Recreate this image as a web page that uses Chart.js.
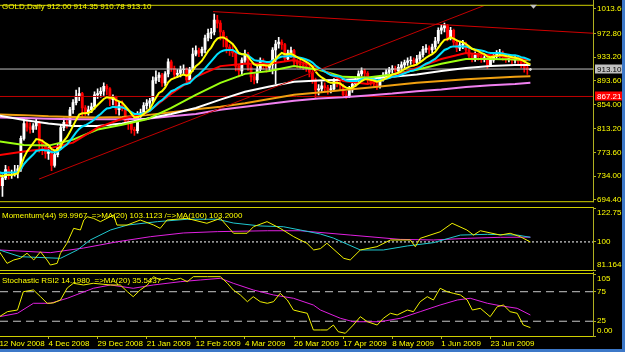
<!DOCTYPE html>
<html><head><meta charset="utf-8">
<script src="https://cdn.jsdelivr.net/npm/chart.js@4.4.1/dist/chart.umd.min.js"></script>
<style>
html,body{margin:0;padding:0;background:#000;}
#wrap{position:relative;width:625px;height:352px;background:#000;overflow:hidden}
canvas{position:absolute;left:0}
#edgeR{position:absolute;left:622px;top:0;width:3px;height:352px;background:#3c78c8}
#edgeB{position:absolute;left:0;top:349px;width:625px;height:3px;background:#3c78c8}
</style></head><body>
<div id="wrap">
<canvas id="cMain" width="625" height="207" style="top:0px"></canvas>
<canvas id="cMom" width="625" height="65" style="top:207px"></canvas>
<canvas id="cSto" width="625" height="80" style="top:272px"></canvas>
<div id="edgeR"></div><div id="edgeB"></div>
</div>
<script>
// ---------------- DATA ----------------
const symbolName = 'GOLD';
const timeframe = 'Daily';
const barOpen = [736,718,731,745,736,737,740,746,797,822,
816,812,818,824,790,784,772,775,752,770,
782,815,824,822,845,857,868,872,848,840,
845,850,870,872,876,884,880,862,866,845,
852,848,826,822,812,810,836,840,852,856,
860,894,899,903,890,905,925,914,904,906,
912,913,895,912,938,944,940,946,965,973,
975,995,990,975,965,950,945,940,918,910,
928,938,916,900,895,913,926,918,916,920,
945,955,958,954,930,940,944,925,922,920,
918,915,908,895,878,880,885,882,878,880,
892,890,886,870,868,878,888,895,905,910,
906,895,892,888,884,898,902,908,912,914,
910,916,920,924,927,928,924,930,937,946,
948,945,950,960,978,982,986,965,978,958,
948,953,955,945,935,930,936,934,930,932,
920,928,936,938,940,934,930,932,928,930,
926,922,915,912];
const barHigh = [742,736,752,750,744,752,752,801,830,828,
823,822,830,826,795,788,782,778,776,787,
819,831,830,849,862,878,882,874,852,851,
856,875,880,882,890,887,882,870,868,858,
860,852,831,825,816,842,846,857,862,864,
900,910,907,906,909,930,928,918,912,918,
920,915,916,948,952,948,950,970,980,981,
1005,1003,994,978,968,954,955,943,921,932,
945,941,920,905,918,932,930,922,926,949,
961,966,962,956,945,950,946,929,928,925,
924,918,911,898,887,892,890,886,886,897,
896,894,888,876,884,893,900,910,915,913,
909,899,896,893,902,907,912,916,919,918,
921,925,928,932,934,932,936,942,951,954,
952,955,966,982,988,990,988,983,980,962,
958,961,958,948,939,942,940,937,937,934,
933,940,944,946,943,938,937,935,935,933,
929,925,918,914.35];
const barLow = [712,700,728,729,730,734,731,742,794,809,
806,807,812,774,770,764,762,743,749,766,
779,810,814,819,839,853,860,834,835,836,
840,846,864,866,869,870,852,853,838,836,
843,820,812,806,802,806,832,835,846,848,
856,889,892,884,885,900,909,898,899,900,
905,888,890,909,935,934,935,940,960,964,
970,982,962,950,940,936,934,910,900,902,
924,911,892,888,890,909,913,908,910,905,
888,948,946,926,927,933,920,915,914,912,
909,900,889,865,870,874,876,871,873,877,
883,878,866,864,865,874,884,891,901,899,
889,886,882,879,881,893,898,903,906,904,
906,912,915,919,921,918,920,926,933,941,
938,940,946,956,972,975,960,962,952,942,
944,947,939,930,925,926,928,924,925,914,
917,924,931,933,928,924,925,922,923,919,
915,908,904,910.78];
const barClose = [718,731,745,736,737,740,746,797,822,816,
812,818,824,790,784,772,775,752,770,782,
815,824,822,845,857,868,872,848,840,845,
850,870,872,876,884,880,862,866,845,852,
848,826,822,812,810,836,840,852,856,860,
894,899,903,890,905,925,914,904,906,912,
913,895,912,938,944,940,946,965,973,975,
995,990,975,965,950,945,940,918,910,928,
938,916,900,895,913,926,918,916,920,945,
955,958,954,930,940,944,925,922,920,918,
915,908,895,878,880,885,882,878,880,892,
890,886,870,868,878,888,895,905,910,906,
895,892,888,884,898,902,908,912,914,910,
916,920,924,927,928,924,930,937,946,948,
945,950,960,978,982,986,965,978,958,948,
953,955,945,935,930,936,934,930,932,920,
928,936,938,940,934,930,932,928,930,926,
922,915,912,913.10];

// fast moving averages read per bar
const maYellow = [735,734,736,736,736,737,739,751,765,775,
782,789,796,795,793,789,786,779,777,778,
785,793,799,808,818,828,837,839,839,840,
842,848,853,858,863,866,865,865,861,859,
857,851,845,838,832,833,834,838,842,846,
856,865,873,876,882,891,896,898,900,902,
904,902,904,911,918,922,927,935,943,949,
958,964,966,966,963,959,955,948,940,938,
938,934,927,921,919,920,920,919,919,924,
930,936,940,938,938,939,936,933,930,928,
925,922,917,909,903,899,896,892,890,890,
890,889,885,882,881,882,885,889,893,896,
896,895,894,892,893,895,898,901,904,905,
907,910,913,916,918,919,921,924,928,932,
935,938,942,949,956,962,963,966,964,961,
959,958,955,951,947,945,943,940,938,934,
933,934,935,936,936,935,934,933,932,931,
929,926,923,921];
const maCyan = [740,739,740,740,740,740,741,746,754,760,
765,770,776,777,778,777,777,774,774,775,
779,783,787,793,800,807,813,817,819,822,
825,829,834,838,843,847,848,850,849,849,
849,847,844,841,838,838,838,839,841,843,
848,853,858,861,866,871,876,878,881,884,
887,888,890,895,900,904,909,914,920,926,
932,938,942,944,945,945,945,942,939,938,
938,936,932,928,927,927,926,925,925,927,
929,932,934,934,935,935,934,933,932,931,
929,927,924,919,915,912,909,906,903,902,
901,900,897,894,893,893,893,894,896,897,
897,896,896,894,895,895,897,898,900,901,
902,904,906,908,910,911,913,915,919,922,
924,927,930,935,940,945,947,950,951,951,
951,951,951,949,947,946,945,944,943,941,
940,940,940,940,939,938,937,936,936,935,
933,932,930,928];
// slow moving averages read every 8 bars
const maSlowBars = [0,8,16,24,32,40,48,56,64,72,80,88,96,104,112,120,128,136,144,152,160,168,173];
const maRed    = [769,775,780,790,815,830,840,872,900,918,922,922,928,915,893,888,900,915,930,940,936,932,928];
const maGreen  = [792,786,785,795,812,820,829,848,870,890,905,910,918,912,900,899,904,912,922,930,930,929,928];
const maWhite  = [835,828,822,818,818,822,830,838,848,862,875,884,892,894,895,897,900,904,910,915,918,920,920];
const maOrange = [837,836,834,833,832,833,836,841,846,850,856,863,870,874,878,882,886,890,893,896,898,900,901];
const maViolet = [832,831,830,829,829,829,830,834,838,845,850,855,860,864,866,869,872,876,879,883,886,888,890];

// drawn objects
const alertLevel = 867.21;
const trendDownBars = [69.6, 193.4];
const trendDownVals = [1009.2, 973.0];
const trendUpBars = [12.9, 165];
const trendUpVals = [729.0, 1033.5];

// axis ticks
const priceTicks = [1013.60, 972.80, 933.20, 893.60, 854.00, 813.20, 773.60, 734.00, 694.40];
const dateTickBars = [0,16,32,48,64,80,96,112,128,144,160];
const dateTickLabels = ['12 Nov 2008','4 Dec 2008','29 Dec 2008','21 Jan 2009','12 Feb 2009','4 Mar 2009','26 Mar 2009','17 Apr 2009','8 May 2009','1 Jun 2009','23 Jun 2009'];

// Momentum(44) with MA(20) and MA(100)
const momBars = [0,2.5,4.7,6.8,9,11.2,13.4,15.5,16.6,18.8,19.9,22,24.2,26.4,27.5,28.6,30.7,32.9,37.2,38.3,41.6,45.9,50.3,52.4,54.6,61.1,67.6,72,76.3,80.7,82.8,87.2,91.5,95.9,98,100.2,102.4,104.6,106.7,112.2,114.3,117.6,123,127.4,133.9,135.5,137.1,143.6,147.5,152.3,154.5,156.7,163.2,166.4,169.7,173];
const momVals = [93.4,85.6,87.9,89.0,92.4,87.9,93.4,87.9,84.5,85.6,92.4,99.1,109.1,108,114.7,116.9,115.8,113.6,118.1,111.3,111.3,114.7,111.3,109.1,114.7,115.8,112.5,115.8,105.8,105.8,110.2,113.6,109.1,103.5,101.3,99.1,94.6,95.5,99.1,89.0,87.9,94.6,96.8,101.3,101.3,96.8,102.4,106.8,112.5,108,104.6,107.5,104.6,105.8,103.5,99.9967];
const momMa20Bars = [0,6.8,19.9,25.4,29.6,36.2,41.7,51.5,61.2,71,76.2,85,92.5,98,104.6,108.8,117.6,125.1,132.9,141.4,150.2,159,168.7,173];
const momMa20Vals = [94.6,90.1,89.0,94.6,101.3,108,111.3,113.6,115.2,115.2,112.7,110.7,110.2,108,105.3,102.6,94.6,94.6,97.3,99.5,104.6,105.1,104.6,103.1123];
const momMa100Bars = [0,16.6,27.4,38.4,49.2,59.9,71,87.3,98,114.3,130.6,141.4,152.4,163.2,173];
const momMa100Vals = [94.6,92.8,95.9,100.1,103.5,106,106.9,107.5,107.5,104.6,101.7,101.3,102.4,103.1,103.2];
const momLevels = [100];
const momAxisValues = [122.7519, 100, 81.1641];
const momAxisLabels = ['122.7519','100','81.1641'];

// Stochastic RSI with MA(20)
const stBars = [0,2.6,5.9,7.8,11.1,13.4,15.6,17.6,19.9,22.1,24.1,27.4,30.6,36.2,39.4,41.7,43.6,45.9,48.2,50.2,52.4,54.7,56.7,59,61.2,63.2,67.8,72,74.3,76.2,78.5,80.8,82.7,85,87.3,89.3,91.5,93.8,95.8,98,100.3,102.3,104.6,106.8,108.8,110.4,112.7,115.3,117.6,119.9,123.1,125.1,127.4,129.6,132.9,134.9,137.1,139.4,141.4,143.6,145.9,147.9,150.2,152.4,154.1,156.7,159.9,162.2,164.2,166.4,168.7,170.7,173];
const stVals = [32.7,41.2,44,75,78,66.6,55.4,56,61,81.3,89.3,86.4,89.3,86.4,86.4,75,66.6,78,86.4,100.5,94.9,97.7,94.9,97.7,92,100.5,100.5,100.5,89.3,78,69.5,58.1,66.6,58.1,55.4,58.1,72.3,61,44,41.2,38.5,10.2,10.2,10.2,18.6,7.3,4.6,18.6,32.7,24.2,18.6,30,38.5,35.6,44,41.2,58.1,66.6,61,80.8,75,72.3,69.5,61,44,46.9,32.7,49.6,52.5,41.2,38.5,18.6,14.198];
const stMaBars = [0,5.9,11.1,16.6,22.1,30.6,36.2,43.6,50.2,59,65.5,72,76.2,82.7,89.3,95.8,102.3,104.6,111.1,115.3,124.1,130.6,137.1,143.6,149.2,153.4,159,163.2,168.7,173];
const stMaVals = [32.7,38.5,55.4,55.4,63.9,80.8,86.4,80.8,86.4,92,94.9,97.7,89.3,78,69.5,63.9,52.5,44,30,24.2,24.2,30,41.2,52.5,61,63.9,55.4,51.3,46.9,35.5437];
const stLevels = [75, 25];
const stAxisValues = [105, 75, 25, 0];
const stAxisLabels = ['105','75','25','0.00'];

// ---------------- STYLE ----------------
const FONT_FAMILY = "'Liberation Sans Narrow','Liberation Sans',Arial,sans-serif";
const FONT = "8px " + FONT_FAMILY;
const TXT = '#ffff00';
const FRAME = '#d0d000';
const AXIS = '#b0b020';
const X_MIN = 0.2, X_MAX = 193.4;
Chart.defaults.font.family = FONT_FAMILY;
Chart.defaults.font.size = 8;

const pts = (xs, ys) => xs.map((x, i) => ({x: x, y: ys[i]}));
const lineDs = (data, color, width, extra) => Object.assign({type: 'line', data: data, borderColor: color, borderWidth: width, pointRadius: 0, tension: 0, fill: false, order: 0}, extra || {});
const hLine = (v) => [{x: X_MIN, y: v}, {x: X_MAX, y: v}];

function text(ctx, s, x, y, color, align, base) {
  ctx.save(); ctx.font = FONT; ctx.fillStyle = color; ctx.textAlign = align || 'left'; ctx.textBaseline = base || 'middle';
  ctx.fillText(s, x, y); ctx.restore();
}
function frame(chart) {
  const {ctx, chartArea: a} = chart; const H = chart.height;
  ctx.save(); ctx.strokeStyle = FRAME; ctx.lineWidth = 1;
  ctx.beginPath();
  ctx.moveTo(0, a.top - 0.5); ctx.lineTo(a.right + 1, a.top - 0.5);
  ctx.moveTo(0, a.bottom + 0.5); ctx.lineTo(a.right + 1, a.bottom + 0.5);
  ctx.stroke();
  ctx.strokeStyle = AXIS; ctx.beginPath();
  ctx.moveTo(a.right + 0.5, 0); ctx.lineTo(a.right + 0.5, Math.min(H, a.bottom + 1));
  ctx.stroke(); ctx.restore();
}
function axisLabels(chart, values, labels) {
  const y = chart.scales.y, a = chart.chartArea;
  values.forEach((v, i) => {
    let py = y.getPixelForValue(v), base = 'middle';
    if (i === 0) { py = a.top + 1; base = 'top'; }
    if (i === values.length - 1) { py = a.bottom - 1; base = 'bottom'; }
    text(chart.ctx, labels[i], a.right + 4, py, TXT, 'left', base);
  });
}
function yAxis(min, max, tickVals, showLabels) {
  return {type: 'linear', position: 'right', min: min, max: max,
    afterFit(s) { s.width = 32; },
    afterBuildTicks(s) { s.ticks = tickVals.map(v => ({value: v})); },
    grid: {drawOnChartArea: false, drawTicks: true, tickLength: 3, color: AXIS},
    border: {display: false},
    ticks: {display: showLabels, color: TXT, padding: 1, font: {size: 8}, callback: v => Number(v).toFixed(2)}};
}
const baseOpts = (pad) => ({responsive: false, animation: false, events: [],
  layout: {padding: pad}, plugins: {legend: {display: false}, tooltip: {enabled: false}}});

// ---------------- MAIN CHART ----------------
const wickUp = [], wickDn = [], bodyUp = [], bodyDn = [];
barClose.forEach((c, i) => {
  const o = barOpen[i], up = c >= o;
  (up ? wickUp : wickDn).push({x: i, y: [barLow[i], barHigh[i]]});
  (up ? bodyUp : bodyDn).push({x: i, y: [Math.min(o, c), Math.max(o, c) + (o === c ? 0.4 : 0)]});
});
const idx = barClose.map((_, i) => i);
const barDs = (data, color, thick) => ({type: 'bar', data: data, backgroundColor: color, borderWidth: 0, barThickness: thick, grouped: false, order: 5});
const lastBar = barClose.length - 1;
const bid = barClose[lastBar];

new Chart(document.getElementById('cMain'), {
  type: 'line',
  data: {datasets: [
    lineDs(pts(trendDownBars, trendDownVals), '#d00000', 1),
    lineDs(pts(trendUpBars, trendUpVals), '#c00000', 1),
    lineDs(pts(idx, maYellow), '#ffff00', 2),
    lineDs(pts(idx, maCyan), '#00e0ff', 2, {order: 1}),
    lineDs(pts(maSlowBars, maRed), '#ff0000', 2, {order: 1}),
    lineDs(pts(maSlowBars, maGreen), '#9cff10', 2, {order: 1}),
    lineDs(pts(maSlowBars, maWhite), '#ffffff', 2, {order: 1}),
    lineDs(pts(maSlowBars, maOrange), '#f0a010', 2, {order: 1}),
    lineDs(pts(maSlowBars, maViolet), '#f080f0', 2, {order: 1}),
    lineDs(hLine(bid), '#c0c0c0', 1, {order: 2}),
    lineDs(hLine(alertLevel), '#c00000', 1, {order: 2}),
    barDs(bodyUp, '#ffffff', 2.2), barDs(bodyDn, '#ff0000', 2.2),
    barDs(wickUp, '#ffffff', 1), barDs(wickDn, '#ff0000', 1)
  ]},
  options: Object.assign(baseOpts({top: 2, bottom: 2, left: 0, right: 0}), {
    scales: {
      x: {type: 'linear', min: X_MIN, max: X_MAX, display: false, offset: false},
      y: yAxis(692.0, 1018.9, priceTicks, true)
    }
  }),
  plugins: [{id: 'mainDeco', afterDraw(chart) {
    const ctx = chart.ctx, a = chart.chartArea, y = chart.scales.y, x = chart.scales.x;
    frame(chart);
    const f = v => v.toFixed(2);
    text(ctx, symbolName + ',' + timeframe + ' ' + f(barOpen[lastBar]) + ' ' + f(barHigh[lastBar]) + ' ' + f(barLow[lastBar]) + ' ' + f(barClose[lastBar]), 2, 6.5, TXT);
    // price tags
    const tag = (v, bg, fg) => { const py = Math.round(y.getPixelForValue(v));
      ctx.save(); ctx.fillStyle = bg; ctx.fillRect(a.right + 2, py - 4.5, 30, 9); ctx.restore();
      text(ctx, f(v), a.right + 4, py + 0.5, fg); };
    tag(alertLevel, '#ff0000', '#ffffff');
    tag(bid, '#c0c0c0', '#000000');
    // chart shift marker
    const sx = x.getPixelForValue(barClose.length);
    ctx.save(); ctx.fillStyle = '#c0c0c0'; ctx.beginPath();
    ctx.moveTo(sx - 3.5, a.top - 1); ctx.lineTo(sx + 3.5, a.top - 1); ctx.lineTo(sx, a.top + 3); ctx.closePath(); ctx.fill(); ctx.restore();
  }}]
});

// ---------------- MOMENTUM ----------------
new Chart(document.getElementById('cMom'), {
  type: 'line',
  data: {datasets: [
    lineDs(pts(momBars, momVals), '#f0f000', 1),
    lineDs(pts(momMa20Bars, momMa20Vals), '#20c8d0', 1, {order: 1}),
    lineDs(pts(momMa100Bars, momMa100Vals), '#e020e0', 1, {order: 2}),
    lineDs(hLine(momLevels[0]), '#ffffff', 1, {order: 3, borderDash: [2, 2]})
  ]},
  options: Object.assign(baseOpts({top: 1, bottom: 2, left: 0, right: 0}), {
    scales: {
      x: {type: 'linear', min: X_MIN, max: X_MAX, display: false, offset: false},
      y: yAxis(momAxisValues[2], momAxisValues[0], momAxisValues, false)
    }
  }),
  plugins: [{id: 'momDeco', afterDraw(chart) {
    frame(chart);
    axisLabels(chart, momAxisValues, momAxisLabels);
    text(chart.ctx, 'Momentum(44) ' + momVals[momVals.length - 1].toFixed(4) + '  =>MA(20) ' + momMa20Vals[momMa20Vals.length - 1].toFixed(4) + ' /=>MA(100) ' + momMa100Vals[momMa100Vals.length - 1].toFixed(4), 2, 8.5, TXT);
  }}]
});

// ---------------- STOCHASTIC RSI ----------------
new Chart(document.getElementById('cSto'), {
  type: 'line',
  data: {datasets: [
    lineDs(pts(stBars, stVals), '#f0f000', 1),
    lineDs(pts(stMaBars, stMaVals), '#e020e0', 1, {order: 1}),
    lineDs(hLine(stLevels[0]), '#c8c8c8', 1, {order: 3, borderDash: [8, 5]}),
    lineDs(hLine(stLevels[1]), '#c8c8c8', 1, {order: 3, borderDash: [8, 5]})
  ]},
  options: Object.assign(baseOpts({top: 2, bottom: 2, left: 0, right: 0}), {
    scales: {
      x: {type: 'linear', min: X_MIN, max: X_MAX, position: 'bottom', offset: false,
        afterFit(s) { s.height = 14; s.paddingLeft = 0; s.paddingRight = 0; },
        afterBuildTicks(s) { s.ticks = dateTickBars.map(v => ({value: v})); },
        grid: {drawOnChartArea: false, drawTicks: true, tickLength: 3, color: AXIS},
        border: {display: false},
        ticks: {color: TXT, align: 'start', padding: 0, autoSkip: false, maxRotation: 0, minRotation: 0,
          font: {size: 8}, callback: (v, i) => dateTickLabels[i]}},
      y: yAxis(stAxisValues[3], stAxisValues[0], stAxisValues, false)
    }
  }),
  plugins: [{id: 'stDeco', afterDraw(chart) {
    frame(chart);
    axisLabels(chart, stAxisValues, stAxisLabels);
    text(chart.ctx, 'Stochastic RSI2 ' + stVals[stVals.length - 1].toFixed(4) + '  =>MA(20) ' + stMaVals[stMaVals.length - 1].toFixed(4), 2, 9, TXT);
  }}]
});
</script>
</body></html>
